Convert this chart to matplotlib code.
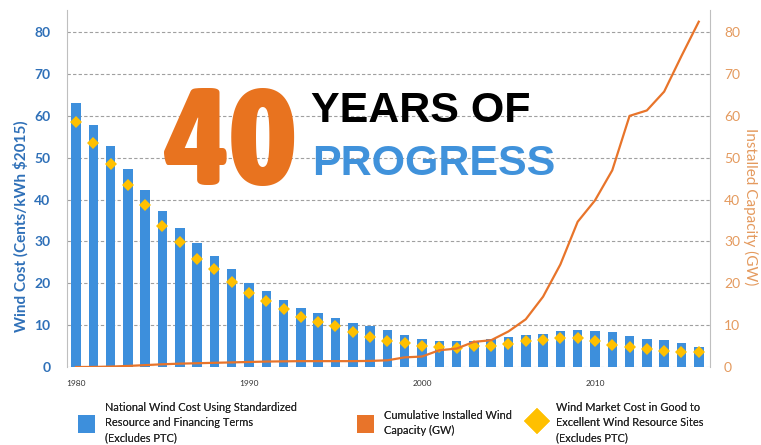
import matplotlib
matplotlib.use("Agg")
import matplotlib.pyplot as plt
from matplotlib.patches import Patch
from matplotlib.lines import Line2D
from matplotlib import font_manager
import numpy as np

# ---------------- data ----------------
years = list(range(1980, 2017))
national_cost = [63.0, 57.9, 52.7, 47.4, 42.4, 37.2, 33.3, 29.6, 26.5, 23.3,
                 20.1, 18.1, 16.0, 14.0, 13.0, 11.6, 10.6, 9.8, 8.8, 7.7,
                 6.6, 6.3, 6.1, 6.3, 6.6, 7.1, 7.6, 8.0, 8.5, 8.8,
                 8.5, 8.3, 7.4, 6.8, 6.5, 5.8, 4.7]
market_cost = [58.5, 53.5, 48.6, 43.6, 38.7, 33.7, 29.9, 25.9, 23.3, 20.4,
               17.7, 15.8, 13.9, 11.9, 10.8, 9.9, 8.3, 7.1, 6.3, 5.8,
               5.1, 4.7, 4.6, 5.0, 5.0, 5.5, 6.2, 6.5, 7.0, 7.0,
               6.3, 5.2, 4.7, 4.2, 3.8, 3.7, 3.6]
capacity_gw = [0.0, 0.01, 0.1, 0.25, 0.45, 0.65, 0.8, 0.9, 1.0, 1.1,
               1.2, 1.3, 1.35, 1.4, 1.4, 1.4, 1.4, 1.45, 1.6, 2.3,
               2.5, 4.0, 4.4, 6.0, 6.4, 8.5, 11.4, 16.8, 24.5, 34.7,
               39.8, 47.0, 60.0, 61.3, 65.8, 74.3, 82.5]
tick_years = [1980, 1990, 2000, 2010]
y_ticks = [0, 10, 20, 30, 40, 50, 60, 70, 80]
legend_labels = ["National Wind Cost Using Standardized\nResource and Financing Terms\n(Excludes PTC)",
                 "Cumulative Installed Wind\nCapacity (GW)",
                 "Wind Market Cost in Good to\nExcellent Wind Resource Sites\n(Excludes PTC)"]

BLUE = "#3D8FDC"
ORANGE = "#E8742A"
GOLD = "#FFC000"
TICKBLUE = "#2F70B8"
TICKORANGE = "#E49A5E"

plt.rcParams['font.family'] = ['Lato', 'DejaVu Sans']

fig = plt.figure(figsize=(7.61, 4.45), dpi=100)
ax = fig.add_axes([67/761, 1-367/445, (710-67)/761, (367-10)/445])

x = np.arange(len(years))
ax.bar(x, national_cost, width=0.55, color=BLUE, zorder=2)
ax.plot(x, market_cost, linestyle='none', marker='D', markersize=6,
        color=GOLD, markeredgewidth=0, zorder=3)

ax.set_xlim(-0.52, 36.65)
ax.set_ylim(0, 85.3)
ax.set_yticks(y_ticks)
ax.set_yticklabels([str(v) for v in y_ticks], color=TICKBLUE,
                   fontsize=10, fontweight='bold')
ax.set_xticks([years.index(t) for t in tick_years])
ax.set_xticklabels([str(t) for t in tick_years], fontsize=6, color='#333333')
ax.tick_params(axis='both', length=0)
ax.tick_params(axis='y', pad=12)
ax.tick_params(axis='x', pad=9)
ax.yaxis.grid(True, linestyle=(0, (3, 2)), color='#A0A0A0', linewidth=0.8)
ax.set_axisbelow(True)
for s in ['top', 'bottom', 'right']:
    ax.spines[s].set_visible(False)
ax.spines['left'].set_color('#BFBFBF')
ax.set_ylabel("Wind Cost (Cents/kWh $2015)", color=TICKBLUE, fontsize=11,
              fontweight='bold')
ax.yaxis.set_label_coords(-0.059, 0.395)

ax2 = ax.twinx()
ax2.plot(x, capacity_gw, color=ORANGE, linewidth=1.6, zorder=4)
ax2.set_ylim(0, 85.3)
ax2.set_yticks(y_ticks)
ax2.set_yticklabels([str(v) for v in y_ticks], color=TICKORANGE, fontsize=10)
ax2.tick_params(axis='y', length=0, pad=10)
for s in ['top', 'bottom', 'left']:
    ax2.spines[s].set_visible(False)
ax2.spines['right'].set_color('#BFBFBF')
ax2.set_ylabel("Installed Capacity (GW)", color=TICKORANGE, fontsize=11,
               rotation=270, va='center', ha='center')
ax2.yaxis.set_label_coords(1.0635, 0.45)

# ---- headline: pick a condensed bold face if one is installed ----
cond = None
for f in font_manager.fontManager.ttflist:
    nm = (f.fname + " " + f.name).lower()
    w = f.weight if isinstance(f.weight, int) else 700
    if ('condensed' in nm or 'narrow' in nm) and w >= 700 and 'oblique' not in nm \
            and 'italic' not in nm and 'semicondensed' not in nm:
        if cond is None or w > cond[1]:
            cond = (f.fname, w)
if cond is not None:
    fp40 = font_manager.FontProperties(fname=cond[0])
else:
    fp40 = font_manager.FontProperties(family='Liberation Sans', weight='bold')

t40 = fig.text(165/761, 1-185/445, "40", color="#E8731F", fontproperties=fp40,
               va='baseline', ha='left')
t40.set_fontsize(95)
fig.canvas.draw()
bb = t40.get_window_extent()
t40.set_fontsize(min(102, 95 * 130 / bb.width))

fig.text(311/761, 1-122/445, "YEARS OF", color="black", fontsize=31,
         fontweight='bold', family=['Liberation Sans', 'DejaVu Sans'],
         va='baseline', ha='left')
fig.text(312/761, 1-175/445, "PROGRESS", color="#4092DB", fontsize=31,
         fontweight='bold', family=['Liberation Sans', 'DejaVu Sans'],
         va='baseline', ha='left')

# legends
handles = [Patch(facecolor=BLUE, edgecolor='none'),
           Patch(facecolor=ORANGE, edgecolor='none'),
           Line2D([], [], linestyle='none', marker='D', markersize=13,
                  color=GOLD, markeredgewidth=0)]
anchors = [70, 349, 521]
for h, lab, ax_x in zip(handles, legend_labels, anchors):
    lg = fig.legend([h], [lab], loc='center left',
                    bbox_to_anchor=(ax_x/761, 1-423/445), frameon=False,
                    fontsize=7.9, handlelength=1.6, handleheight=2.2,
                    handletextpad=0.9, borderpad=0.2)
    for t in lg.get_texts():
        t.set_linespacing(1.45)
        t.set_color('#262626')
    fig.add_artist(lg)

fig.savefig("out.png", dpi=100)
